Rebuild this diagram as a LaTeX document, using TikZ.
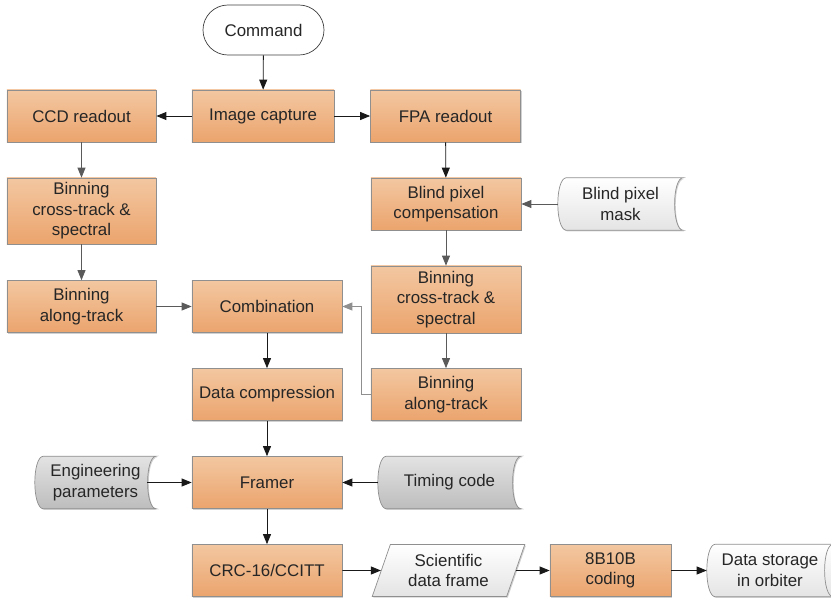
\documentclass[tikz,border=0pt]{standalone}
\usepackage{fontspec}
\setmainfont{Liberation Sans}
\usepackage{tikz}
\usetikzlibrary{shapes.geometric,arrows.meta,shadows,backgrounds}

\definecolor{procTop}{HTML}{F3C7A1}
\definecolor{procBot}{HTML}{EBA46D}
\definecolor{edgeGray}{HTML}{8F8F8F}
\definecolor{lineGray}{HTML}{5A5A5A}
\definecolor{tapeTop}{HTML}{E3E3E3}
\definecolor{tapeBot}{HTML}{BDBDBD}
\definecolor{paleBot}{HTML}{E4E4E4}

% outline of a stored-data shape round a node
\newcommand{\storedoutline}[2]{%
  \shade[#2] ([xshift=0.22cm]#1.north west)
    .. controls ([xshift=-0.07cm]#1.north west) and ([xshift=-0.07cm]#1.south west) .. ([xshift=0.22cm]#1.south west)
    -- (#1.south east)
    .. controls ([xshift=-0.29cm]#1.south east) and ([xshift=-0.29cm]#1.north east) .. (#1.north east)
    -- cycle;}
% outline of a lying drum (disk storage) round a node
\newcommand{\diskoutline}[2]{%
  \shade[#2] ([xshift=0.22cm]#1.north west)
    .. controls ([xshift=-0.07cm]#1.north west) and ([xshift=-0.07cm]#1.south west) .. ([xshift=0.22cm]#1.south west)
    -- (#1.south east)
    .. controls ([xshift=0.29cm]#1.south east) and ([xshift=0.29cm]#1.north east) .. (#1.north east)
    -- cycle;
  \draw[edgeGray, line width=0.5pt] (#1.north east)
    .. controls ([xshift=-0.29cm]#1.north east) and ([xshift=-0.29cm]#1.south east) .. (#1.south east);}

\tikzset{
  softshadow/.style={drop shadow={shadow xshift=0.8pt, shadow yshift=-0.8pt, opacity=0.3, fill=black!60}},
  proc/.style={rectangle, draw=edgeGray, line width=0.5pt, top color=procTop, bottom color=procBot,
    minimum width=3.75cm, minimum height=1.3cm, inner sep=1pt, softshadow},
  stored/.style={rectangle, minimum height=1.3cm, inner sep=1pt},
  term/.style={rectangle, rounded corners=0.625cm, draw=black!75, line width=0.5pt, fill=white,
    minimum width=3.025cm, minimum height=1.25cm},
  io/.style={trapezium, trapezium left angle=70, trapezium right angle=110, trapezium stretches=true,
    draw=edgeGray, line width=0.5pt, top color=white, bottom color=paleBot,
    minimum width=3.825cm, minimum height=1.3cm, inner sep=1pt, softshadow},
  flow/.style={-{Triangle[length=0.25cm,width=0.2cm]}, line width=0.6pt, black!90},
  flowg/.style={flow, lineGray}
}

\begin{document}
\begin{tikzpicture}[x=0.025cm, y=-0.025cm,
  every node/.append style={font=\fontsize{12}{14.6}\selectfont, text=black!85, align=center}]
\useasboundingbox (0,0) rectangle (831,599);

% top row
\node[term] (cmd) at (263.5,30) {Command};
\node[proc, minimum width=3.55cm] (img) at (263,116) {Image capture};
\node[proc, minimum width=3.725cm] (ccd) at (81.5,116) {CCD readout};
\node[proc] (fpa) at (445.5,116) {FPA readout};

% CCD branch
\node[proc, minimum width=3.725cm, minimum height=1.65cm] (crossL) at (81.5,211) {Binning\\cross-track \&\\spectral};
\node[proc, minimum width=3.725cm] (alongL) at (81.5,306.5) {Binning\\along-track};

% FPA branch
\node[proc] (blind) at (446,204) {Blind pixel\\compensation};
\node[stored, minimum width=3.125cm] (mask) at (620.5,204) {Blind pixel\\mask};
\node[proc, minimum height=1.675cm] (crossR) at (446,299.5) {Binning\\cross-track \&\\spectral};
\node[proc] (alongR) at (446,394.5) {Binning\\along-track};

% middle column
\node[proc] (comb) at (267,306.5) {Combination};
\node[proc] (comp) at (267,394.5) {Data compression};
\node[proc] (framer) at (267,482.5) {Framer};
\node[stored, minimum width=3.025cm] (eng) at (95.5,482.5) {Engineering\\parameters};
\node[stored, minimum width=3.575cm] (timing) at (449.5,482.5) {Timing code};

% bottom row
\node[proc] (crc) at (267,570.5) {CRC-16/CCITT};
\node[io] (frame) at (448.5,570.5) {Scientific\\data frame};
\node[proc, minimum width=3.025cm] (coding) at (610.5,570.5) {8B10B\\coding};
\node[stored, minimum width=3.15cm] (store) at (770,570.5) {Data storage\\in orbiter};

\begin{scope}[on background layer]
  \storedoutline{mask}{draw=edgeGray, line width=0.5pt, top color=white, bottom color=paleBot, softshadow}
  \storedoutline{eng}{draw=edgeGray, line width=0.5pt, top color=tapeTop, bottom color=tapeBot, softshadow}
  \storedoutline{timing}{draw=edgeGray, line width=0.5pt, top color=tapeTop, bottom color=tapeBot, softshadow}
  \diskoutline{store}{draw=edgeGray, line width=0.5pt, top color=white, bottom color=paleBot, softshadow}
\end{scope}

% connectors
\draw[flow] (cmd) -- (img);
\draw[flow] (img) -- (ccd);
\draw[flow] (img) -- (fpa);
\draw[flowg] (ccd) -- (crossL);
\draw[flowg] (crossL) -- (alongL);
\draw[flowg] (alongL) -- (comb);
\draw[flow] (fpa) -- (blind);
\draw[flowg] (mask) -- (blind);
\draw[flowg] (blind) -- (crossR);
\draw[flowg] (crossR) -- (alongR);
\draw[flowg, edgeGray] (alongR.west) -- ++(-9,0) |- (comb.east);
\draw[flow] (comb) -- (comp);
\draw[flow] (comp) -- (framer);
\draw[flow] ([xshift=-0.22cm]eng.east) -- (framer);
\draw[flow] (timing) -- (framer);
\draw[flow] (framer) -- (crc);
\draw[flow] (crc) -- (frame);
\draw[flow] (frame) -- (coding);
\draw[flow] (coding) -- (store);
\end{tikzpicture}
\end{document}
